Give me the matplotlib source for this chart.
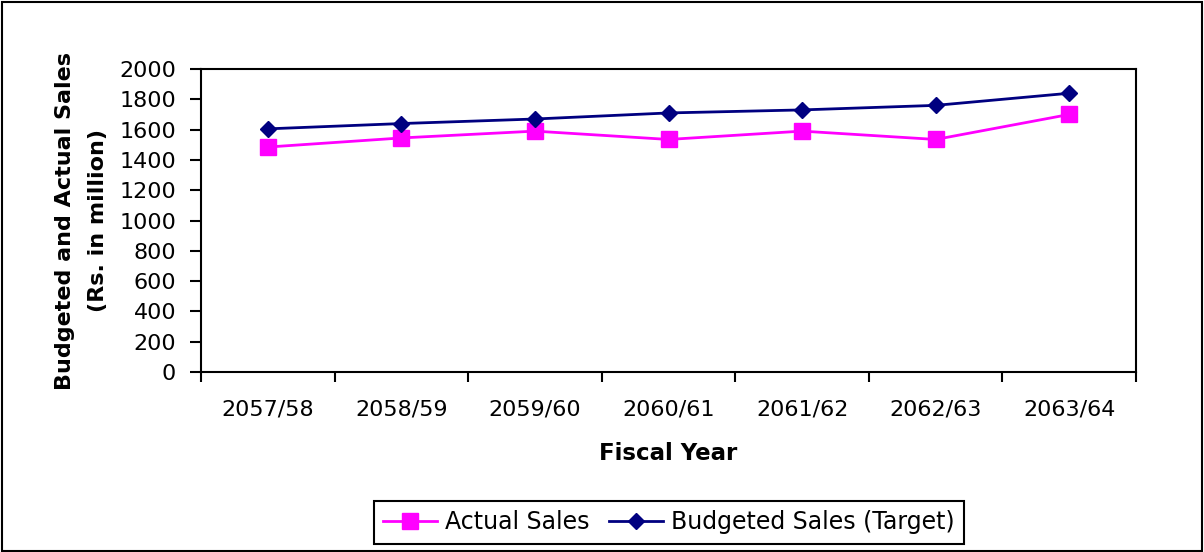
import matplotlib.pyplot as plt
from matplotlib.patches import Rectangle

plt.rcParams['font.family'] = ['DejaVu Sans']

years = ['2057/58', '2058/59', '2059/60', '2060/61', '2061/62', '2062/63', '2063/64']
actual = [1485, 1545, 1590, 1535, 1590, 1535, 1700]
budgeted = [1605, 1640, 1670, 1710, 1730, 1760, 1840]

fig = plt.figure(figsize=(12.04, 5.52), dpi=100)
ax = fig.add_axes([0.167, 0.326, 0.7765, 0.549])

x = range(len(years))
ax.plot(x, actual, color='#FF00FF', lw=2, marker='s', ms=12,
        label='Actual Sales')
ax.plot(x, budgeted, color='#000080', lw=2, marker='D', ms=8.5,
        label='Budgeted Sales (Target)')

ax.set_xlim(-0.5, len(years) - 0.5)
ax.set_ylim(0, 2000)
ax.set_yticks(range(0, 2001, 200))
# category ticks sit between the years, labels sit under the points
ax.set_xticks([i - 0.5 for i in range(len(years) + 1)])
ax.set_xticklabels([])
ax.set_xticks(list(x), minor=True)
ax.set_xticklabels(years, minor=True, fontsize=16)
ax.tick_params(axis='x', which='minor', length=0, pad=20)
ax.tick_params(axis='x', which='major', length=7, width=1.5, direction='out')
ax.tick_params(axis='y', length=8, width=1.5, direction='out', labelsize=16, pad=10)
for s in ax.spines.values():
    s.set_linewidth(1.5)

ax.set_xlabel('Fiscal Year', fontsize=16.5, fontweight='bold', labelpad=16)
ax.set_ylabel('Budgeted and Actual Sales\n(Rs. in million)', fontsize=16,
              fontweight='bold', labelpad=8, linespacing=1.8)

leg = fig.legend(loc='center', bbox_to_anchor=(0.5556, 0.0535), ncol=2,
                 fontsize=17, frameon=True, fancybox=False, edgecolor='black',
                 framealpha=1, handlelength=2.3, columnspacing=0.8,
                 handletextpad=0.34, borderpad=0.4, borderaxespad=0)
leg.get_frame().set_linewidth(1.5)

# border round the whole figure
fig.patches.append(Rectangle((0.002, 0.002), 0.996, 0.994, transform=fig.transFigure,
                             fill=False, edgecolor='black', lw=1.5))

fig.savefig('out.png', dpi=100)
